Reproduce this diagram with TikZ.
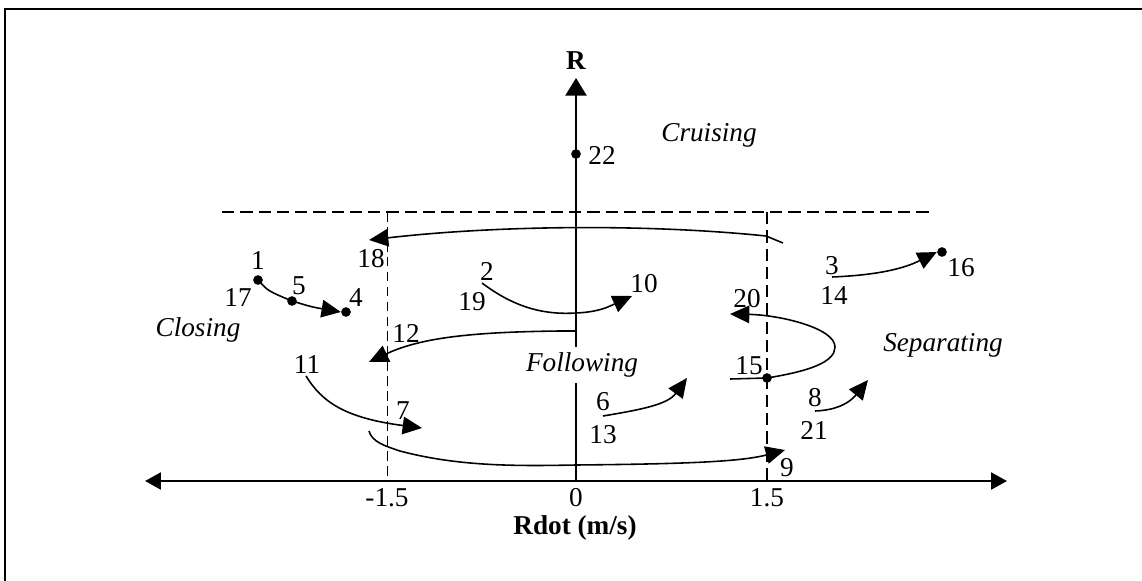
\documentclass[tikz,border=0pt]{standalone}
\usepackage{fontspec}
\setmainfont{Liberation Serif}
\usetikzlibrary{arrows.meta}

\begin{document}
\begin{tikzpicture}[x=0.02cm, y=-0.02cm,
    font=\fontsize{15.5}{18}\selectfont,
    num/.style={inner sep=0pt},
    region/.style={inner sep=1pt, font=\fontsize{15.5}{18}\selectfont\itshape},
    dot/.style={circle, fill=black, inner sep=0pt, minimum size=5.5pt},
    traj/.style={line width=0.9pt, -{Triangle[length=11pt, width=10pt]}},
    bound/.style={line width=1.1pt, dash pattern=on 7pt off 3.4pt}]
  \useasboundingbox (0,0) rectangle (1142,581);
  % frame
  \draw[line width=1.7pt] (5,581) -- (5,9) -- (1142,9);

  % axes
  \coordinate (xl) at (145,481);
  \coordinate (xr) at (1007,481);
  \coordinate (o) at (576,481);
  \coordinate (rt) at (576,78);
  \draw[line width=1.6pt, {Triangle[length=9pt, width=9.5pt]}-{Triangle[length=9pt, width=9.5pt]}] (xl) -- (xr);
  \draw[line width=1pt, -{Triangle[length=10pt, width=12pt]}] (o) -- (rt);
  \node[font=\fontsize{15.5}{18}\selectfont\bfseries, anchor=south] (rlab) at (576,76) {R};
  \node[num, anchor=base] (tm) at (387,506) {-1.5};
  \node[num, anchor=base] (t0) at (576,506) {0};
  \node[num, anchor=base] (tp) at (767,506) {1.5};
  \node[font=\fontsize{15.5}{18}\selectfont\bfseries, anchor=base, inner sep=0pt] (xlab) at (575,534) {Rdot (m/s)};

  % region boundaries
  \draw[bound] (222,212) -- (930,212);
  \draw[bound] (767,212) -- (767,481);
  \draw[thin, dash pattern=on 5.5pt off 3pt] (387,212) -- (387,481);

  % region names
  \node[region] (cru) at (709,135) {Cruising};
  \node[region] (clo) at (198,330) {Closing};
  \node[region, fill=white, inner ysep=3pt] (fol) at (582,365) {Following};
  \node[region] (sep) at (943,345) {Separating};

  % state 22
  \node[dot] (d22) at (576,154) {};
  \node[num] (n22) at (602,155) {22};

  % 18
  \coordinate (a18) at (783,243);
  \coordinate (b18) at (369,240);
  \draw[traj] (a18) -- (766,236) .. controls (650,224) and (500,225) .. (b18);
  \node[num] (n18) at (371,259) {18};

  % 1 - 5 - 4
  \node[dot] (d1) at (258,280) {};
  \node[dot] (d5) at (292,301) {};
  \node[dot] (d4) at (346,312) {};
  \draw[traj] (d1.center) .. controls (268,291) .. (d5.center) .. controls (312,307) .. (d4.west);
  \node[num] (n1) at (258,261) {1};
  \node[num] (n17) at (238,298) {17};
  \node[num] (n5) at (299,286) {5};
  \node[num] (n4) at (356,298) {4};

  % 2 -> 10
  \coordinate (a2) at (482,283);
  \coordinate (b10) at (632,296);
  \draw[traj] (a2) .. controls (515,308) and (545,315) .. (576,313) .. controls (600,312) and (610,306) .. (b10);
  \node[num] (n2) at (487,271) {2};
  \node[num] (n19) at (472,302) {19};
  \node[num] (n10) at (644,284) {10};

  % 12
  \coordinate (a12) at (576,331);
  \coordinate (b12) at (369,362);
  \draw[traj] (a12) -- (560,331) .. controls (470,332) and (420,338) .. (b12);
  \node[num] (n12) at (406,333) {12};

  % 11 -> 7
  \coordinate (a11) at (306,376);
  \coordinate (b7) at (422,428);
  \draw[traj] (a11) .. controls (322,402) and (345,418) .. (b7);
  \node[num] (n11) at (307,365) {11};
  \node[num] (n7) at (403,411) {7};

  % -> 9
  \coordinate (a9) at (369,431);
  \coordinate (b9) at (785,450);
  \draw[traj] (a9) .. controls (372,442) and (385,446) .. (400,451) .. controls (460,467) and (520,466) .. (576,465) .. controls (680,464) and (740,462) .. (b9);
  \node[num] (n9) at (787,468) {9};

  % 6 -> 13
  \coordinate (a6) at (603,416);
  \coordinate (b6) at (687,378);
  \draw[traj] (a6) .. controls (645,409) and (668,404) .. (b6);
  \node[num] (n6) at (603,402) {6};
  \node[num] (n13) at (603,435) {13};

  % 15 -> 20
  \node[dot] (d15) at (767,378) {};
  \coordinate (a15) at (730,379);
  \coordinate (b20) at (730,314);
  \draw[traj] (a15) -- (d15.center) .. controls (810,371) and (835,362) .. (835,347) .. controls (835,328) and (780,315) .. (b20);
  \node[num] (n20) at (747,299) {20};
  \node[num] (n15) at (749,366) {15};

  % 8 -> 21
  \coordinate (a8) at (815,411);
  \coordinate (b8) at (868,380);
  \draw[traj] (a8) .. controls (845,410) and (855,396) .. (b8);
  \node[num] (n8) at (815,398) {8};
  \node[num] (n21) at (814,430) {21};

  % 3 -> 16
  \node[dot] (d16) at (942,252) {};
  \coordinate (a3) at (832,277);
  \draw[traj] (a3) .. controls (880,275) and (905,268) .. (d16.west);
  \node[num] (n3) at (832,266) {3};
  \node[num] (n14) at (834,296) {14};
  \node[num] (n16) at (961,268) {16};
\end{tikzpicture}
\end{document}
